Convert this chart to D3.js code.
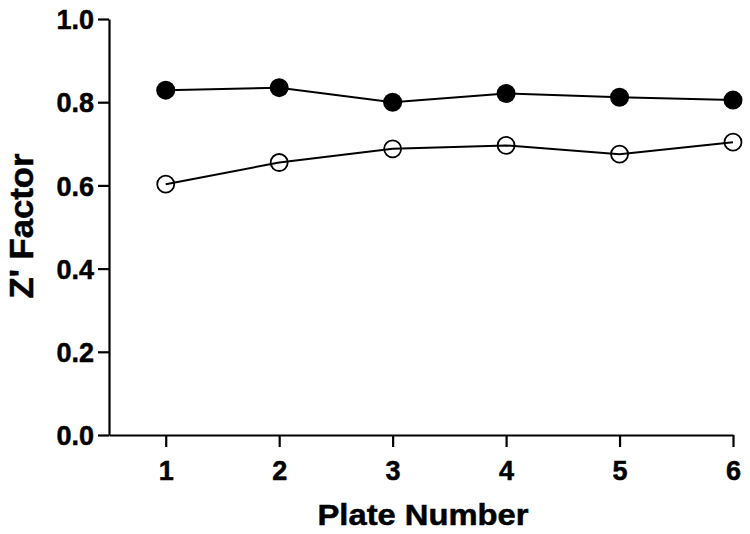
<!DOCTYPE html>
<html><head><meta charset="utf-8">
<script src="https://cdn.jsdelivr.net/npm/d3@7"></script>
<style>body{margin:0;background:#fff}svg{display:block}</style>
</head><body>
<svg id="c" width="750" height="534"></svg>
<script>
const plates = [1, 2, 3, 4, 5, 6];
const filledSeries = [0.829, 0.835, 0.800, 0.821, 0.812, 0.805];
const openSeries = [0.603, 0.655, 0.688, 0.696, 0.675, 0.704];
const yTicks = [0.0, 0.2, 0.4, 0.6, 0.8, 1.0];
const xTitle = "Plate Number";
const yTitle = "Z' Factor";

const svg = d3.select("#c");
const font = "'Liberation Sans', Arial, sans-serif";
const x = d3.scaleLinear().domain([0.5, 6]).range([109, 733]);
const y = d3.scaleLinear().domain([0, 1]).range([435, 19]);

const xAxis = svg.append("g").attr("transform", "translate(0,435)")
  .call(d3.axisBottom(x).tickValues(plates).tickFormat(d3.format("d")).tickSize(12).tickSizeOuter(0));
const yAxis = svg.append("g").attr("transform", "translate(109,0)")
  .call(d3.axisLeft(y).tickValues(yTicks).tickFormat(d3.format(".1f")).tickSize(11).tickSizeOuter(0));

[xAxis, yAxis].forEach(g => {
  g.select(".domain").attr("stroke", "#000").attr("stroke-width", 2.2);
  g.selectAll(".tick line").attr("stroke", "#000").attr("stroke-width", 2.2);
  g.selectAll(".tick text").attr("fill", "#000").style("font-family", font)
    .style("font-weight", "bold").style("font-size", "27px")
    .attr("stroke", "#000").attr("stroke-width", 0.5);
});
xAxis.selectAll(".tick text").attr("dy", null).attr("y", 45);
yAxis.selectAll(".tick text").attr("x", -15).attr("dy", "0.36em");

const line = d3.line().x((d, i) => x(plates[i])).y(d => y(d));
svg.append("path").datum(filledSeries).attr("d", line)
  .attr("fill", "none").attr("stroke", "#000").attr("stroke-width", 2);
svg.append("path").datum(openSeries).attr("d", line)
  .attr("fill", "none").attr("stroke", "#000").attr("stroke-width", 2);

svg.append("g").selectAll("circle").data(filledSeries).join("circle")
  .attr("cx", (d, i) => x(plates[i])).attr("cy", d => y(d)).attr("r", 9.5)
  .attr("fill", "#000");
svg.append("g").selectAll("circle").data(openSeries).join("circle")
  .attr("cx", (d, i) => x(plates[i])).attr("cy", d => y(d)).attr("r", 8.5)
  .attr("fill", "none").attr("stroke", "#000").attr("stroke-width", 1.8);

svg.append("text").attr("x", 423).attr("y", 525).attr("text-anchor", "middle")
  .attr("textLength", 211).attr("lengthAdjust", "spacingAndGlyphs")
  .attr("stroke", "#000").attr("stroke-width", 0.5)
  .style("font-family", font).style("font-weight", "bold").style("font-size", "29px")
  .text(xTitle);
svg.append("text").attr("transform", "translate(33,226) rotate(-90)").attr("text-anchor", "middle")
  .attr("textLength", 145).attr("lengthAdjust", "spacingAndGlyphs")
  .attr("stroke", "#000").attr("stroke-width", 0.5)
  .style("font-family", font).style("font-weight", "bold").style("font-size", "33px")
  .text(yTitle);
</script>
</body></html>
